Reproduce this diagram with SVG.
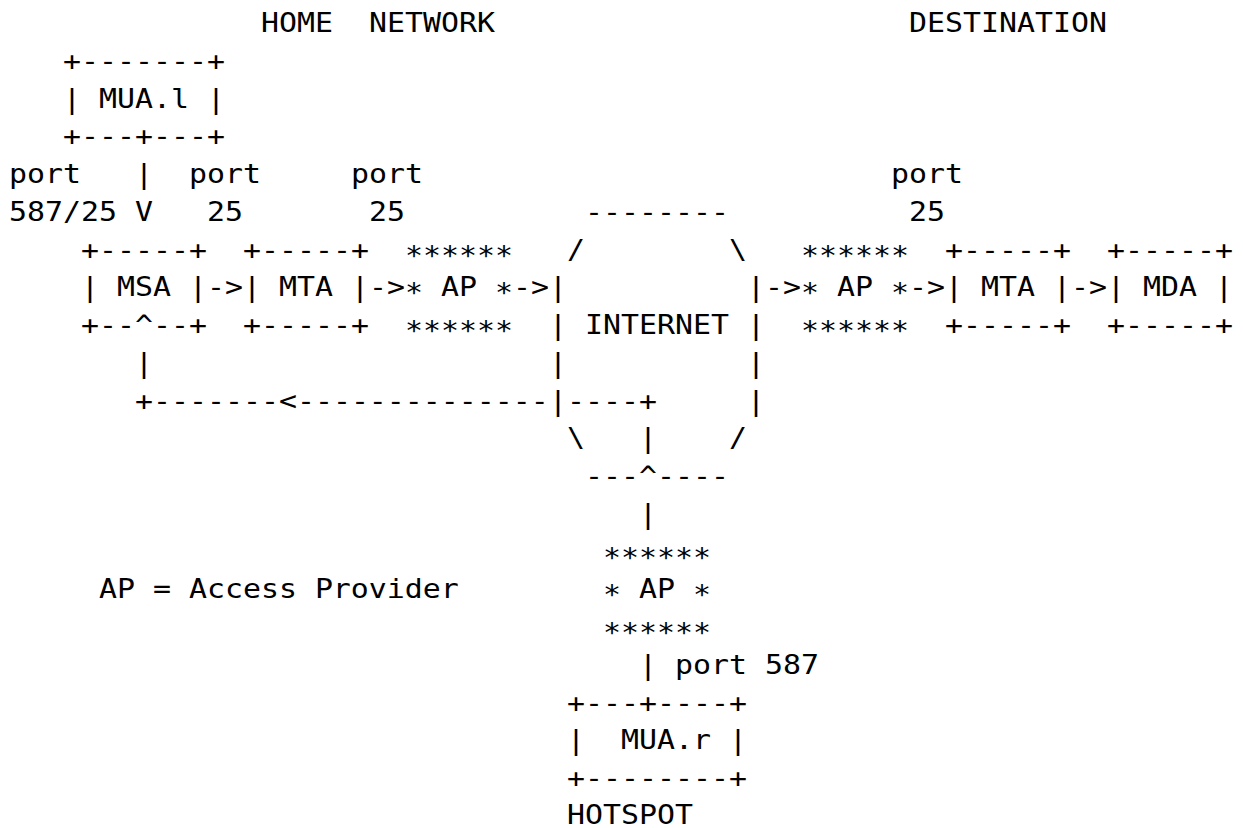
<svg xmlns="http://www.w3.org/2000/svg" width="1243" height="828" viewBox="0 0 1243 828" xml:space="preserve">
<style>
text{font-family:"DejaVu Sans Mono","Liberation Mono",monospace;font-size:26px;white-space:pre;fill:#000}
.s{baseline-shift:-6px}
</style>
<rect width="1243" height="828" fill="#fff"/>
<g id="labels">
<text transform="translate(261 32) scale(1.15 1)">HOME  NETWORK</text>
<text transform="translate(909 32) scale(1.15 1)">DESTINATION</text>
<text transform="translate(9 183) scale(1.15 1)">port</text>
<text transform="translate(189 183) scale(1.15 1)">port</text>
<text transform="translate(351 183) scale(1.15 1)">port</text>
<text transform="translate(891 183) scale(1.15 1)">port</text>
<text transform="translate(9 220.75) scale(1.15 1)">587/25</text>
<text transform="translate(207 220.75) scale(1.15 1)">25</text>
<text transform="translate(369 220.75) scale(1.15 1)">25</text>
<text transform="translate(909 220.75) scale(1.15 1)">25</text>
<text transform="translate(99 598.25) scale(1.15 1)">AP = Access Provider</text>
<text transform="translate(675 673.75) scale(1.15 1)">port 587</text>
<text transform="translate(567 823.5) scale(1.15 1)">HOTSPOT</text>
</g>
<g id="mua-l">
<text transform="translate(63 69.75) scale(1.15 1)">+-------+</text>
<text transform="translate(63 107.5) scale(1.15 1)">| MUA.l |</text>
<text transform="translate(63 145.25) scale(1.15 1)">+---+---+</text>
</g>
<g id="msa">
<text transform="translate(81 258.5) scale(1.15 1)">+-----+</text>
<text transform="translate(81 296.25) scale(1.15 1)">| MSA |</text>
<text transform="translate(81 334) scale(1.15 1)">+--^--+</text>
</g>
<g id="mta-home">
<text transform="translate(243 258.5) scale(1.15 1)">+-----+</text>
<text transform="translate(243 296.25) scale(1.15 1)">| MTA |</text>
<text transform="translate(243 334) scale(1.15 1)">+-----+</text>
</g>
<g id="ap-home">
<text transform="translate(405 264.5) scale(1.15 1)">******</text>
<text transform="translate(405 296.25) scale(1.15 1)"><tspan class="s">*</tspan> AP <tspan class="s">*</tspan></text>
<text transform="translate(405 340) scale(1.15 1)">******</text>
</g>
<g id="internet">
<text transform="translate(585 220.75) scale(1.15 1)">--------</text>
<text transform="translate(567 258.5) scale(1.15 1)">/        \</text>
<text transform="translate(549 296.25) scale(1.15 1)">|          |</text>
<text transform="translate(549 334) scale(1.15 1)">| INTERNET |</text>
<text transform="translate(549 371.75) scale(1.15 1)">|          |</text>
<text transform="translate(549 409.5) scale(1.15 1)">|</text>
<text transform="translate(747 409.5) scale(1.15 1)">|</text>
<text transform="translate(567 447.25) scale(1.15 1)">\</text>
<text transform="translate(729 447.25) scale(1.15 1)">/</text>
<text transform="translate(585 485) scale(1.15 1)">---^----</text>
</g>
<g id="ap-dest">
<text transform="translate(801 264.5) scale(1.15 1)">******</text>
<text transform="translate(801 296.25) scale(1.15 1)"><tspan class="s">*</tspan> AP <tspan class="s">*</tspan></text>
<text transform="translate(801 340) scale(1.15 1)">******</text>
</g>
<g id="mta-dest">
<text transform="translate(945 258.5) scale(1.15 1)">+-----+</text>
<text transform="translate(945 296.25) scale(1.15 1)">| MTA |</text>
<text transform="translate(945 334) scale(1.15 1)">+-----+</text>
</g>
<g id="mda">
<text transform="translate(1107 258.5) scale(1.15 1)">+-----+</text>
<text transform="translate(1107 296.25) scale(1.15 1)">| MDA |</text>
<text transform="translate(1107 334) scale(1.15 1)">+-----+</text>
</g>
<g id="ap-hotspot">
<text transform="translate(603 566.5) scale(1.15 1)">******</text>
<text transform="translate(603 598.25) scale(1.15 1)"><tspan class="s">*</tspan> AP <tspan class="s">*</tspan></text>
<text transform="translate(603 642) scale(1.15 1)">******</text>
</g>
<g id="mua-r">
<text transform="translate(567 711.5) scale(1.15 1)">+---+----+</text>
<text transform="translate(567 749.25) scale(1.15 1)">|  MUA.r |</text>
<text transform="translate(567 787) scale(1.15 1)">+--------+</text>
</g>
<g id="connectors">
<text transform="translate(135 183) scale(1.15 1)">|</text>
<text transform="translate(135 220.75) scale(1.15 1)">V</text>
<text transform="translate(207 296.25) scale(1.15 1)">-&gt;</text>
<text transform="translate(369 296.25) scale(1.15 1)">-&gt;</text>
<text transform="translate(513 296.25) scale(1.15 1)">-&gt;</text>
<text transform="translate(765 296.25) scale(1.15 1)">-&gt;</text>
<text transform="translate(909 296.25) scale(1.15 1)">-&gt;</text>
<text transform="translate(1071 296.25) scale(1.15 1)">-&gt;</text>
<text transform="translate(135 371.75) scale(1.15 1)">|</text>
<text transform="translate(135 409.5) scale(1.15 1)">+-------&lt;--------------</text>
<text transform="translate(567 409.5) scale(1.15 1)">----+</text>
<text transform="translate(639 447.25) scale(1.15 1)">|</text>
<text transform="translate(639 522.75) scale(1.15 1)">|</text>
<text transform="translate(639 673.75) scale(1.15 1)">|</text>
</g>
</svg>
